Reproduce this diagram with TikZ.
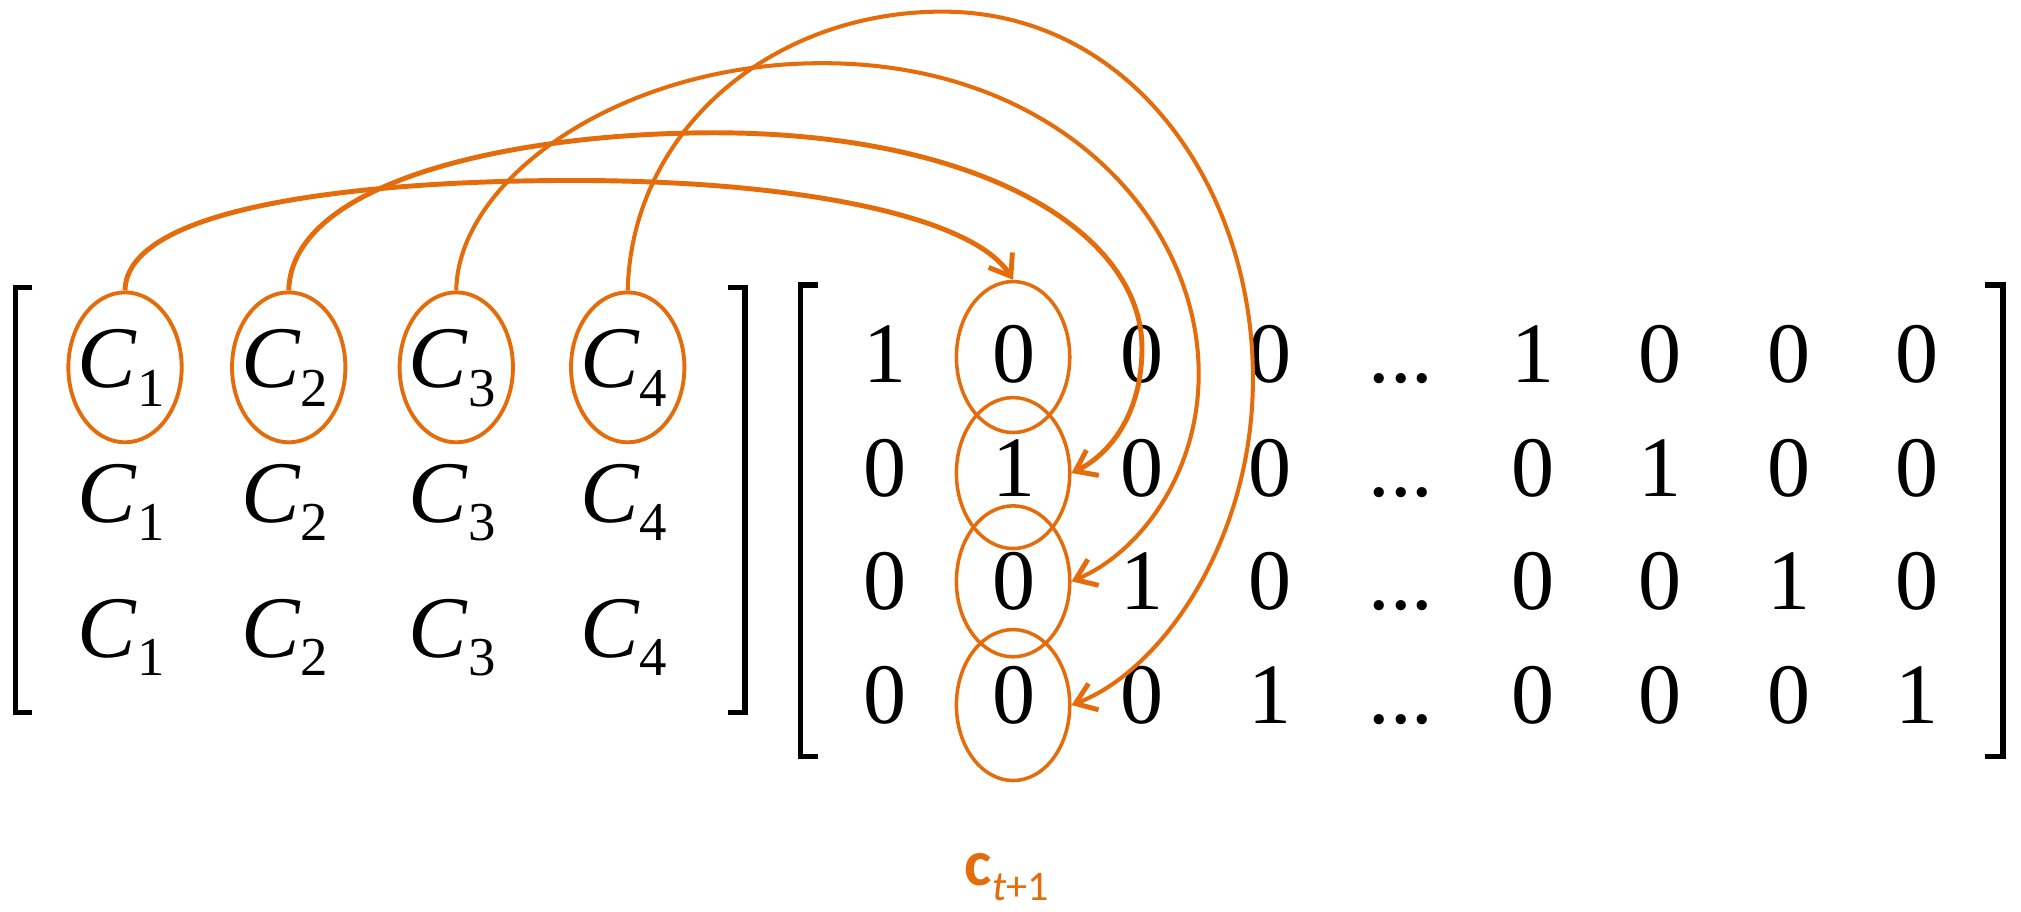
\documentclass[tikz,border=0pt]{standalone}
\usepackage{fontspec}
\setmainfont{Liberation Serif}
\newfontfamily\calib{Carlito}
\usetikzlibrary{arrows.meta,shapes.geometric}
\definecolor{org}{RGB}{228,108,10}
\newcommand\Csub[1]{{\fontsize{25}{25}\selectfont\itshape C}\kern0.3pt\raisebox{-5.2pt}{\fontsize{15.6}{16}\selectfont #1}}
\begin{document}
\begin{tikzpicture}[x=0.01289cm,y=-0.01289cm,
  cn/.style={anchor=base,inner sep=0pt},
  dg/.style={anchor=base,inner sep=0pt,font=\fontsize{24.5}{25}\selectfont},
  ovA/.style={draw=org,line width=1.1pt,ellipse,inner sep=0pt,minimum width=1.134cm,minimum height=1.50cm},
  ovB/.style={draw=org,line width=1.0pt,ellipse,inner sep=0pt,minimum width=1.134cm,minimum height=1.51cm},
  brk/.style={line width=1.5pt,line cap=butt},
  arcA/.style={draw=org,line width=1.4pt,-{Straight Barb[length=5.5pt,width=8pt,line width=1.4pt]}},
  arcB/.style={draw=org,line width=1.15pt,-{Straight Barb[length=5.5pt,width=8pt,line width=1.4pt]}}]
\useasboundingbox (0,0) rectangle (1568,707);

% left matrix brackets
\coordinate (lbt) at (12,223); \coordinate (lbb) at (12,553);
\draw[brk] ([xshift=0.17cm]lbt) -- (lbt) -- (lbb) -- ([xshift=0.17cm]lbb);
\coordinate (rbt) at (578,223); \coordinate (rbb) at (578,553);
\draw[brk] ([xshift=-0.17cm]rbt) -- (rbt) -- (rbb) -- ([xshift=-0.17cm]rbb);

% right matrix brackets
\coordinate (Lbt) at (621,221); \coordinate (Lbb) at (621,587);
\draw[brk] ([xshift=0.18cm]Lbt) -- (Lbt) -- (Lbb) -- ([xshift=0.18cm]Lbb);
\coordinate (Rbt) at (1554,221); \coordinate (Rbb) at (1554,587);
\draw[brk] ([xshift=-0.18cm]Rbt) -- (Rbt) -- (Rbb) -- ([xshift=-0.18cm]Rbb);

% left matrix entries
\foreach \i/\x in {1/94,2/221,3/351,4/484}{
  \node[cn] (a1\i) at (\x,301) {\Csub{\i}};
  \node[cn] (a2\i) at (\x,405) {\Csub{\i}};
  \node[cn] (a3\i) at (\x,510) {\Csub{\i}};
}

% right matrix entries
\foreach \r/\y/\vals in {1/297/{1,0,0,0,1,0,0,0},2/385/{0,1,0,0,0,1,0,0},3/473/{0,0,1,0,0,0,1,0},4/561/{0,0,0,1,0,0,0,1}}{
  \foreach \v [count=\c] in \vals {
    \pgfmathsetmacro\xx{{687,787,886,985,1189,1288,1388,1487}[\c-1]}
    \node[dg] (m\r\c) at (\xx,\y) {\v};
  }
  \node[dg] (d\r) at (1087,\y) {...};
}

% ellipses
\node[ovA] (e1) at (97,285) {};
\node[ovA] (e2) at (224,285) {};
\node[ovA] (e3) at (354,285) {};
\node[ovA] (e4) at (487,285) {};
\node[ovB] (f1) at (786,277) {};
\node[ovB] (f2) at (786,367) {};
\node[ovB] (f3) at (786,451) {};
\node[ovB] (f4) at (786,547) {};

% arcs
\draw[arcA] (e1.north) .. controls (98,160) and (280,140) .. (445,140)
  .. controls (620,140) and (755,168) .. (f1.north);
\draw[arcA] (e2.north) .. controls (226,140) and (400,103) .. (554,103)
  .. controls (760,103) and (886,180) .. (886,270)
  .. controls (886,320) and (862,352) .. (f2.east);
\draw[arcB] (e3.north) .. controls (355,140) and (480,49) .. (638,49)
  .. controls (820,49) and (930,170) .. (930,290)
  .. controls (930,370) and (882,430) .. (f3.east);
\draw[arcB] (e4.north) .. controls (490,100) and (600,9) .. (731,9)
  .. controls (880,9) and (975,150) .. (972,300)
  .. controls (970,420) and (902,520) .. (f4.east);

% label
\node[anchor=base,inner sep=0pt,text=org] (lab) at (781,687)
  {\calib{\fontsize{18.5}{18}\selectfont\bfseries c}\raisebox{-4.2pt}{\fontsize{12}{12}\selectfont\itshape t\upshape+1}};
\end{tikzpicture}
\end{document}
